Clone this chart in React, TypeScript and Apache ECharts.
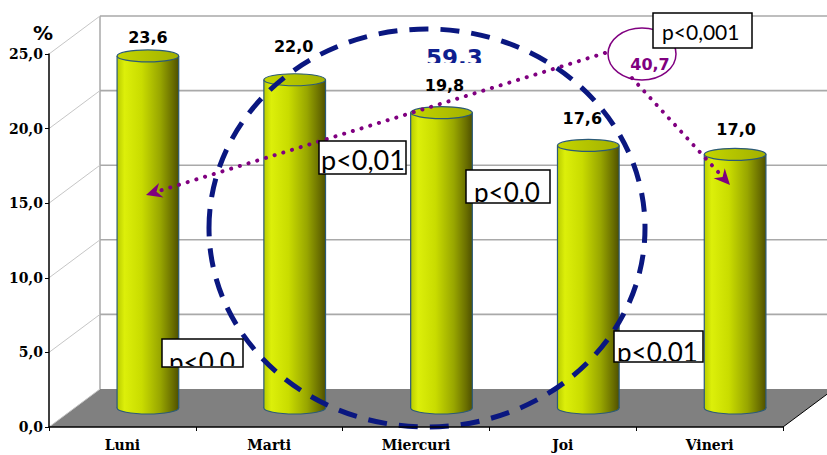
import React, { useEffect, useRef } from "react";
import * as echarts from "echarts";

// Share of cases by weekday (%)
const days = ["Luni", "Marti", "Miercuri", "Joi", "Vineri"];
const shares = [23.6, 22.0, 19.8, 17.6, 17.0];
const yTicks = [0, 5, 10, 15, 20, 25];

// Grouped totals and significance notes
const groupTotal = "59,3";
const restTotal = "40,7";
const pNotes = ["p<0,01", "p<0,0", "p<0,0", "p<0,01", "p<0,001"];

// Value-label nudges (px): lift above the cylinder top, sideways shift
const labelLift = [18, 33, 27, 27, 25];
const labelShift = [0, -1, 3, -6, 1];

// Depth of the pseudo-3D box (back wall offset from the front plane)
const DX = 51;
const DY = -38;

const fmt = (v: number) => v.toFixed(1).replace(".", ",");

const OUTLINE = "#2b5a78";
const PURPLE = "#800080";
const NAVY = "#0a1780";

function arrowHead(tx: number, ty: number, fx: number, fy: number) {
  const len = Math.hypot(tx - fx, ty - fy);
  const ux = (tx - fx) / len;
  const uy = (ty - fy) / len;
  const px = -uy;
  const py = ux;
  const L = 16;
  const H = 7.5;
  const bx = tx - ux * L;
  const by = ty - uy * L;
  const nx = tx - ux * (L - 5);
  const ny = ty - uy * (L - 5);
  return {
    points: [
      [tx, ty],
      [bx + px * H, by + py * H],
      [nx, ny],
      [bx - px * H, by - py * H],
    ],
    base: [bx + ux * 2, by + uy * 2],
  };
}

export default function App() {
  const ref = useRef<HTMLDivElement>(null);

  useEffect(() => {
    if (!ref.current) return;
    const chart = echarts.init(ref.current, undefined, { renderer: "svg" });

    const frameItem = (params: any, api: any) => {
      const cs = params.coordSys;
      const L = cs.x;
      const R = cs.x + cs.width;
      const B = cs.y + cs.height;
      const T = cs.y;
      const children: any[] = [];
      children.push({
        type: "polygon",
        shape: { points: [[L, B], [L + DX, B + DY], [R + DX, B + DY], [R, B]] },
        style: { fill: "#808080" },
      });
      children.push({
        type: "line",
        shape: { x1: L + DX, y1: B + DY, x2: L + DX, y2: T + DY },
        style: { stroke: "#a9a9a9", lineWidth: 1.5 },
      });
      yTicks.forEach((v) => {
        const y = api.coord([0, v])[1];
        children.push({
          type: "line",
          shape: { x1: L, y1: y, x2: L + DX, y2: y + DY },
          style: { stroke: "#c6c6c6", lineWidth: 1 },
        });
        if (v > 0) {
          children.push({
            type: "line",
            shape: { x1: L + DX, y1: y + DY, x2: R + DX, y2: y + DY },
            style: { stroke: "#a9a9a9", lineWidth: 1.6 },
          });
        }
      });
      children.push({
        type: "line",
        shape: { x1: R, y1: B, x2: R + DX, y2: B + DY },
        style: { stroke: "#000", lineWidth: 1 },
      });
      return { type: "group", children };
    };

    const barItem = (params: any, api: any) => {
      const i = api.value(0);
      const v = api.value(1);
      const top = api.coord([i, v]);
      const base = api.coord([i, 0]);
      const band = api.size([1, 0])[0];
      const w = band * 0.42;
      const rx = w / 2;
      const ry = 6;
      const cx = base[0] + DX / 2;
      const yb = base[1] + DY / 2;
      const yt = top[1] + DY / 2;
      const side = new echarts.graphic.LinearGradient(0, 0, 1, 0, [
        { offset: 0, color: "#b9cc00" },
        { offset: 0.12, color: "#dcef0a" },
        { offset: 0.4, color: "#c9dc00" },
        { offset: 0.7, color: "#98a600" },
        { offset: 0.9, color: "#6a6f00" },
        { offset: 1, color: "#4f5000" },
      ]);
      const cap = new echarts.graphic.LinearGradient(0, 0, 1, 0, [
        { offset: 0, color: "#c4d600" },
        { offset: 1, color: "#a2b000" },
      ]);
      return {
        type: "group",
        children: [
          { type: "ellipse", shape: { cx, cy: yb, rx, ry }, style: { fill: side, stroke: OUTLINE, lineWidth: 1.2 } },
          { type: "rect", shape: { x: cx - rx, y: yt, width: w, height: yb - yt }, style: { fill: side } },
          { type: "line", shape: { x1: cx - rx, y1: yt, x2: cx - rx, y2: yb }, style: { stroke: OUTLINE, lineWidth: 1.2 } },
          { type: "line", shape: { x1: cx + rx, y1: yt, x2: cx + rx, y2: yb }, style: { stroke: OUTLINE, lineWidth: 1.2 } },
          { type: "ellipse", shape: { cx, cy: yt, rx, ry }, style: { fill: cap, stroke: OUTLINE, lineWidth: 1.2 } },
          {
            type: "text",
            x: cx + labelShift[i],
            y: yt - labelLift[i],
            style: {
              text: fmt(v),
              fill: "#000",
              fontSize: 16,
              fontWeight: "bold",
              fontFamily: "DejaVu Sans",
              align: "center",
              verticalAlign: "middle",
            },
          },
        ],
      };
    };

    // boxes: [x, y, w, h, textLeft, textMiddleY, fontSize]
    const boxes = [
      [319, 141, 87, 33, 321, 159.5, 27],
      [466, 170, 84, 33, 474, 192, 26],
      [162, 339, 81, 28, 169, 362, 26],
      [614, 331, 89, 31, 617, 352, 26],
      [653, 13, 99, 35, 662, 31.5, 21],
    ];

    const notesItem = () => {
      const children: any[] = [];
      // dashed ring around the middle weekdays
      children.push({
        type: "ellipse",
        shape: { cx: 427, cy: 228, rx: 218, ry: 199 },
        style: { fill: "none", stroke: NAVY, lineWidth: 5, lineDash: [19, 12] },
      });
      // total of the ringed group, cut off at its lower edge
      const tx = 426;
      const ty = 58;
      children.push({
        type: "text",
        x: tx,
        y: ty,
        style: {
          text: groupTotal,
          x: 0,
          y: 0,
          fill: "#0f1f8f",
          fontSize: 23,
          fontWeight: "bold",
          fontFamily: "DejaVu Sans",
          align: "left",
          verticalAlign: "middle",
        },
        clipPath: { type: "rect", shape: { x: -10, y: -40, width: 90, height: 63 - ty + 40 } },
      });
      // dotted arrows from the remaining share
      const a1 = arrowHead(146, 195, 605, 53);
      const a2 = arrowHead(730, 185, 632, 78);
      children.push({
        type: "line",
        shape: { x1: 605, y1: 53, x2: a1.base[0], y2: a1.base[1] },
        style: { stroke: PURPLE, lineWidth: 4, lineDash: [0.1, 9], lineCap: "round" },
      });
      children.push({ type: "polygon", shape: { points: a1.points }, style: { fill: PURPLE } });
      children.push({
        type: "line",
        shape: { x1: 632, y1: 78, x2: a2.base[0], y2: a2.base[1] },
        style: { stroke: PURPLE, lineWidth: 4, lineDash: [0.1, 9], lineCap: "round" },
      });
      children.push({ type: "polygon", shape: { points: a2.points }, style: { fill: PURPLE } });
      children.push({
        type: "ellipse",
        shape: { cx: 642, cy: 54, rx: 34, ry: 26 },
        style: { fill: "none", stroke: PURPLE, lineWidth: 1.5 },
      });
      children.push({
        type: "text",
        x: 650,
        y: 64.5,
        style: {
          text: restTotal,
          fill: PURPLE,
          fontSize: 16,
          fontWeight: "bold",
          fontFamily: "DejaVu Sans",
          align: "center",
          verticalAlign: "middle",
        },
      });
      // significance boxes
      boxes.forEach((b, k) => {
        const [x, y, w, h, tl, tm, fs] = b;
        children.push({
          type: "rect",
          shape: { x, y, width: w, height: h },
          style: { fill: "#fff", stroke: "#000", lineWidth: 1.5 },
        });
        children.push({
          type: "text",
          x: tl,
          y: tm,
          style: {
            text: pNotes[k],
            fill: "#000",
            fontSize: fs,
            fontFamily: "Lato",
            align: "left",
            verticalAlign: "middle",
          },
          clipPath: { type: "rect", shape: { x: x - tl + 1, y: y - tm + 1, width: w - 2, height: h - 2 } },
        });
      });
      // unit above the value axis
      children.push({
        type: "text",
        x: 43,
        y: 33,
        style: {
          text: "%",
          fill: "#000",
          fontSize: 20,
          fontWeight: "bold",
          fontFamily: "DejaVu Sans",
          align: "center",
          verticalAlign: "middle",
        },
      });
      return { type: "group", children };
    };

    chart.setOption({
      animation: false,
      backgroundColor: "#fff",
      grid: { left: 49, right: 44, top: 54, bottom: 28 },
      xAxis: {
        type: "category",
        data: days,
        boundaryGap: true,
        axisLine: { lineStyle: { color: "#000", width: 1.5 } },
        axisTick: { show: true, length: 4, lineStyle: { color: "#000" } },
        axisLabel: {
          color: "#000",
          fontFamily: "DejaVu Serif",
          fontWeight: "bold",
          fontSize: 14,
          margin: 11,
        },
        splitLine: { show: false },
        z: 5,
      },
      yAxis: {
        type: "value",
        min: yTicks[0],
        max: yTicks[yTicks.length - 1],
        interval: 5,
        axisLine: { show: true, lineStyle: { color: "#000", width: 1.5 } },
        axisTick: { show: true, length: 4, lineStyle: { color: "#000" } },
        axisLabel: {
          color: "#000",
          fontFamily: "DejaVu Serif",
          fontWeight: "bold",
          fontSize: 14,
          margin: 6,
          formatter: (v: number) => fmt(v),
        },
        splitLine: { show: false },
        z: 5,
      },
      series: [
        {
          type: "custom",
          name: "frame",
          silent: true,
          z: 1,
          renderItem: frameItem,
          data: [[0, 0]],
        },
        {
          type: "custom",
          name: "share",
          silent: true,
          z: 2,
          renderItem: barItem,
          data: shares.map((v, i) => [i, v]),
        },
        {
          type: "custom",
          name: "notes",
          silent: true,
          z: 3,
          renderItem: notesItem,
          data: [[0, 0]],
        },
      ],
    });

    return () => chart.dispose();
  }, []);

  return (
    <div
      ref={ref}
      style={{ position: "fixed", left: 0, top: 0, width: 827, height: 455, background: "#fff" }}
    />
  );
}
